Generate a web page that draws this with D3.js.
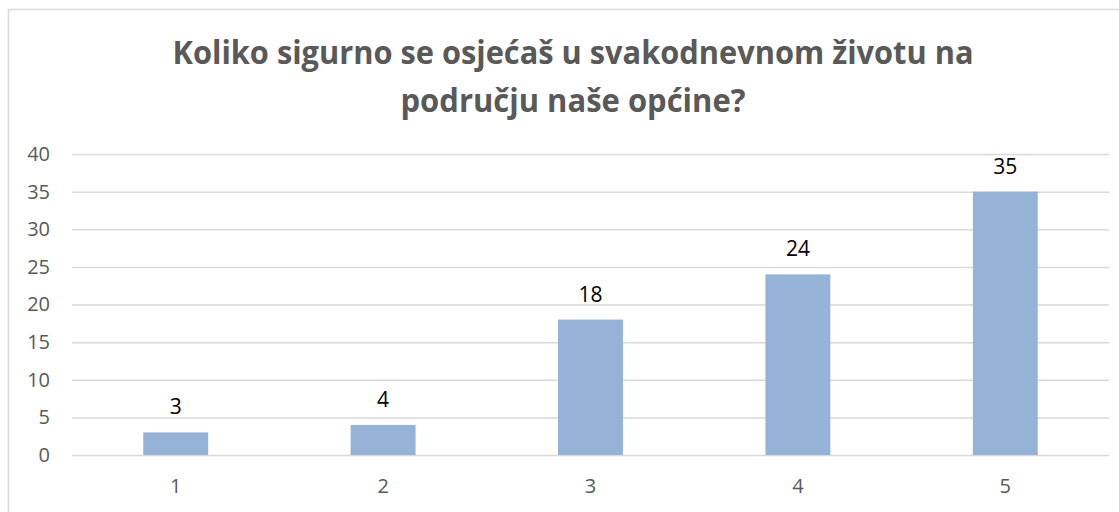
<!DOCTYPE html>
<html>
<head>
<meta charset="utf-8">
<script src="https://cdn.jsdelivr.net/npm/d3@7"></script>
<style>
  html, body { margin: 0; padding: 0; background: #fff; }
  svg { display: block; }
</style>
</head>
<body>
<div id="chart"></div>
<script>
const titleLines = ['Koliko sigurno se osjećaš u svakodnevnom životu na', 'području naše općine?'];
const categories = ['1', '2', '3', '4', '5'];
const values = [3, 4, 18, 24, 35];
const yTicks = [0, 5, 10, 15, 20, 25, 30, 35, 40];

const W = 1119, H = 512;
const margin = { top: 154, right: 10, bottom: 57, left: 72 };
const width = W - margin.left - margin.right;
const height = H - margin.top - margin.bottom;

const svg = d3.select('#chart').append('svg')
  .attr('width', W)
  .attr('height', H);

// chart frame (right and bottom edges fall outside the picture)
svg.append('rect')
  .attr('x', 8.5).attr('y', 9.5)
  .attr('width', W + 20).attr('height', H + 20)
  .attr('fill', 'none')
  .attr('stroke', '#d9d9d9')
  .attr('stroke-width', 1.5);

// title
const titleWidths = [801, 345];
const titleY = [64, 112];
titleLines.forEach((t, i) => {
  svg.append('text')
    .attr('x', 573)
    .attr('y', titleY[i])
    .attr('text-anchor', 'middle')
    .attr('font-family', '"Open Sans", "Noto Sans", sans-serif')
    .attr('font-weight', 'bold')
    .attr('font-size', 33)
    .attr('fill', '#595959')
    .attr('textLength', titleWidths[i])
    .attr('lengthAdjust', 'spacingAndGlyphs')
    .text(t);
});

const g = svg.append('g')
  .attr('transform', `translate(${margin.left},${margin.top})`);

const x = d3.scaleBand()
  .domain(categories)
  .range([0, width])
  .paddingInner(0.687)
  .paddingOuter(0.3435);

const y = d3.scaleLinear()
  .domain([0, 40])
  .range([height, 0]);

// gridlines + y labels
const yAxis = g.append('g')
  .call(d3.axisLeft(y).tickValues(yTicks).tickSize(-width).tickPadding(22));
yAxis.select('.domain').remove();
yAxis.selectAll('.tick line').attr('stroke', '#d9d9d9').attr('stroke-width', 1.5);
yAxis.selectAll('.tick text')
  .attr('font-family', '"Open Sans", "Noto Sans", sans-serif')
  .attr('font-size', 20)
  .attr('fill', '#595959');

// x labels
const xAxis = g.append('g')
  .attr('transform', `translate(0,${height})`)
  .call(d3.axisBottom(x).tickSize(0).tickPadding(24));
xAxis.select('.domain').remove();
xAxis.selectAll('.tick text')
  .attr('font-family', '"Open Sans", "Noto Sans", sans-serif')
  .attr('font-size', 20)
  .attr('fill', '#595959');

// bars
g.selectAll('rect.bar')
  .data(values)
  .enter()
  .append('rect')
  .attr('class', 'bar')
  .attr('x', (d, i) => x(categories[i]))
  .attr('y', d => y(d))
  .attr('width', x.bandwidth())
  .attr('height', d => height - y(d))
  .attr('fill', '#95b3d7');

// data labels
g.selectAll('text.lbl')
  .data(values)
  .enter()
  .append('text')
  .attr('class', 'lbl')
  .attr('x', (d, i) => x(categories[i]) + x.bandwidth() / 2)
  .attr('y', d => y(d) - 18)
  .attr('text-anchor', 'middle')
  .attr('font-family', '"Open Sans", "Noto Sans", sans-serif')
  .attr('font-size', 21)
  .attr('fill', '#000')
  .text(d => d);
</script>
</body>
</html>
